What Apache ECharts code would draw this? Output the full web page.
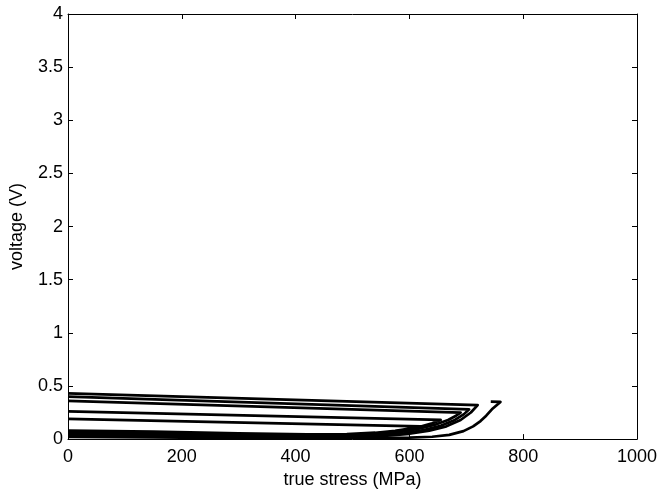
<!DOCTYPE html>
<html>
<head>
<meta charset="utf-8">
<script src="https://cdn.jsdelivr.net/npm/echarts@6/dist/echarts.min.js"></script>
<style>html,body{margin:0;padding:0;background:#fff}#c{width:661px;height:494px}</style>
</head>
<body>
<div id="c"></div>
<script>
// stress (MPa) and voltage (V)
const xTicks = [0, 200, 400, 600, 800, 1000];
const yTicks = [0, 0.5, 1, 1.5, 2, 2.5, 3, 3.5, 4];

const cycle1 = [[0,0.08],[150,0.07],[300,0.055],[420,0.045],[490,0.048],[540,0.06],[575,0.078],[600,0.098],[612,0.11],[620,0.12],[0,0.19]];
const cycle2 = [[0,0.065],[150,0.055],[300,0.045],[450,0.035],[510,0.04],[560,0.062],[595,0.088],[620,0.117],[640,0.148],[655,0.18],[0,0.26]];
const cycle3 = [[0,0.05],[150,0.045],[300,0.035],[450,0.03],[530,0.038],[580,0.062],[615,0.095],[645,0.135],[668,0.18],[682,0.22],[690,0.25],[0,0.36]];
const cycle4 = [[0,0.04],[150,0.035],[300,0.03],[450,0.025],[540,0.033],[590,0.055],[625,0.085],[655,0.125],[680,0.18],[696,0.235],[705,0.28],[0,0.40]];
const cycle5 = [[0,0.03],[150,0.025],[300,0.02],[450,0.02],[550,0.028],[600,0.05],[635,0.08],[665,0.12],[690,0.18],[708,0.25],[720,0.32],[0,0.43]];
const cycle6 = [[0,0.02],[150,0.015],[300,0.01],[450,0.01],[560,0.011],[600,0.013],[640,0.022],[670,0.04],[695,0.075],[712,0.12],[725,0.17],[735,0.22],[745,0.28],[760,0.35],[743,0.352]];

const cycles = [cycle1, cycle2, cycle3, cycle4, cycle5, cycle6];

const font = 'Liberation Sans, Arial, Helvetica, sans-serif';
const fs = 18;

const chart = echarts.init(document.getElementById('c'), null, {renderer: 'canvas'});
const axisCommon = {
  axisLine: {show: true, onZero: false, lineStyle: {color: '#000', width: 1}},
  axisTick: {show: true, inside: true, length: 5, lineStyle: {color: '#000'}},
  splitLine: {show: false}
};
chart.setOption({
  animation: false,
  backgroundColor: '#fff',
  grid: {left: 66, right: 24, top: 14, bottom: 53, containLabel: false},
  xAxis: [
    Object.assign({}, axisCommon, {
      type: 'value', min: 0, max: 1000, interval: 200, position: 'bottom',
      name: 'true stress (MPa)', nameLocation: 'middle', nameGap: 30,
      nameTextStyle: {color: '#000', fontSize: fs, fontFamily: font},
      axisLabel: {color: '#000', fontSize: fs, fontFamily: font, margin: 9,
        formatter: v => xTicks.includes(v) ? String(v) : ''}
    }),
    Object.assign({}, axisCommon, {
      type: 'value', min: 0, max: 1000, interval: 200, position: 'top',
      axisLabel: {show: false}
    })
  ],
  yAxis: [
    Object.assign({}, axisCommon, {
      type: 'value', min: 0, max: 4, interval: 0.5, position: 'left',
      name: 'voltage (V)', nameLocation: 'middle', nameGap: 42,
      nameTextStyle: {color: '#000', fontSize: fs, fontFamily: font},
      axisLabel: {color: '#000', fontSize: fs, fontFamily: font, margin: 5,
        formatter: v => yTicks.includes(v) ? String(v) : ''}
    }),
    Object.assign({}, axisCommon, {
      type: 'value', min: 0, max: 4, interval: 0.5, position: 'right',
      axisLabel: {show: false}
    })
  ],
  series: cycles.map(c => ({
    type: 'line', data: c, xAxisIndex: 0, yAxisIndex: 0,
    showSymbol: false, symbol: 'none', smooth: false,
    lineStyle: {color: '#000', width: 2.7, join: 'round'}, clip: true
  }))
});
</script>
</body>
</html>
